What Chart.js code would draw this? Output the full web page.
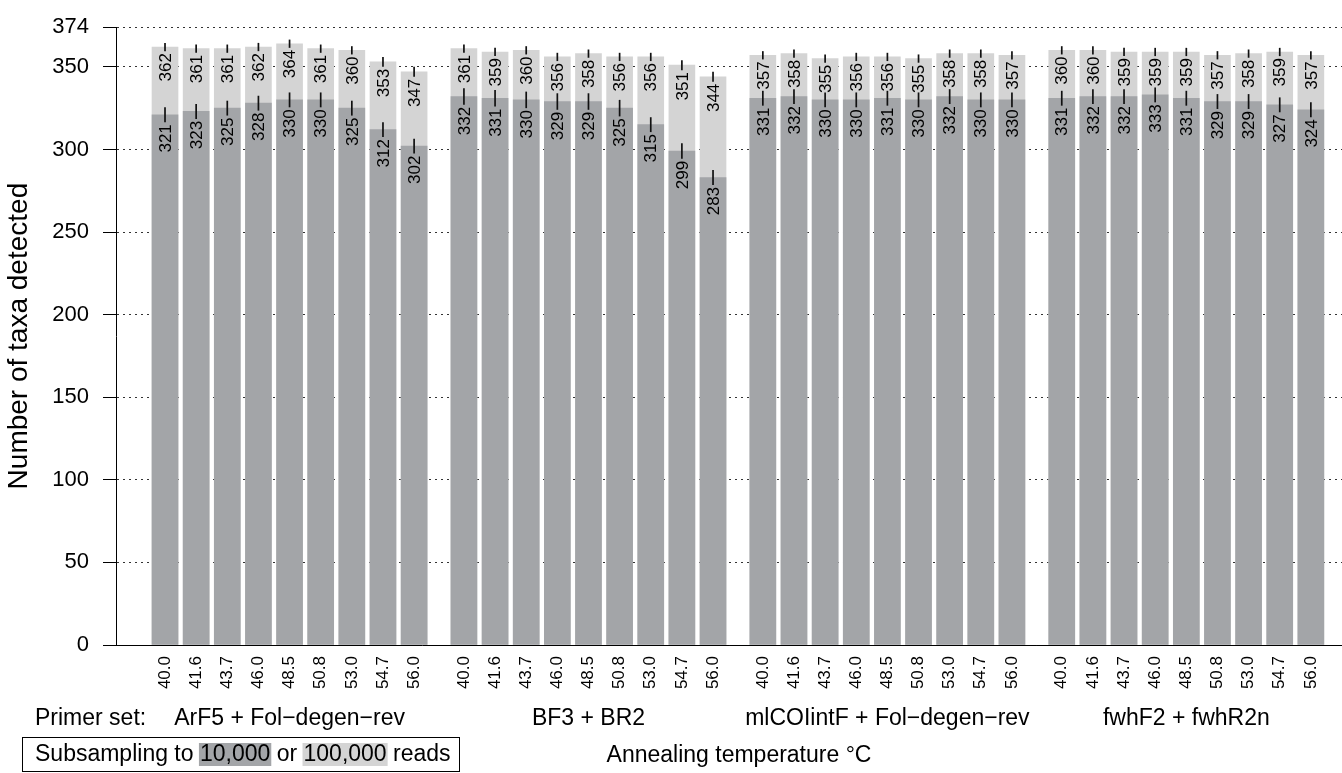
<!DOCTYPE html>
<html>
<head>
<meta charset="utf-8">
<script src="https://cdn.jsdelivr.net/npm/chart.js@4"></script>
<style>
  html, body { margin: 0; padding: 0; background: #fff; }
  canvas { display: block; }
</style>
</head>
<body>
<canvas id="c" width="1342" height="773"></canvas>
<script>
// ---------- data ----------
const temps = ['40.0', '41.6', '43.7', '46.0', '48.5', '50.8', '53.0', '54.7', '56.0'];
const primerSets = ['ArF5 + Fol\u2212degen\u2212rev', 'BF3 + BR2', 'mlCOIintF + Fol\u2212degen\u2212rev', 'fwhF2 + fwhR2n'];
const yTicks = [0, 50, 100, 150, 200, 250, 300, 350, 374];

// taxa detected after subsampling to 10,000 reads (one row per primer set)
const reads10k = [
  321, 323, 325, 328, 330, 330, 325, 312, 302,
  332, 331, 330, 329, 329, 325, 315, 299, 283,
  331, 332, 330, 330, 331, 330, 332, 330, 330,
  331, 332, 332, 333, 331, 329, 329, 327, 324
];
// taxa detected after subsampling to 100,000 reads
const reads100k = [
  362, 361, 361, 362, 364, 361, 360, 353, 347,
  361, 359, 360, 356, 358, 356, 356, 351, 344,
  357, 358, 355, 356, 356, 355, 358, 358, 357,
  360, 360, 359, 359, 359, 357, 358, 359, 357
];
// half-length of the error bars (estimated)
const err10k = [
  4.5, 4.5, 4.5, 4.5, 4.5, 4.5, 4.5, 4.5, 4.5,
  5.0, 5.0, 5.0, 5.0, 5.0, 5.0, 4.5, 4.7, 4.5,
  4.5, 4.5, 4.5, 4.5, 4.5, 4.5, 4.5, 4.5, 4.5,
  4.5, 4.5, 4.5, 4.5, 4.5, 4.5, 4.5, 4.5, 4.5
];
const err100k = [
  2.5, 2.5, 2.5, 2.5, 2.5, 2.5, 2.5, 3.0, 3.0,
  2.5, 2.5, 2.5, 2.5, 2.5, 2.5, 2.5, 3.0, 3.0,
  2.5, 2.5, 2.5, 2.5, 2.5, 2.5, 2.5, 2.5, 2.5,
  2.5, 2.5, 2.5, 2.5, 2.5, 2.5, 2.5, 2.5, 2.5
];

const yTitle = 'Number of taxa detected';
const xTitle = 'Annealing temperature \u00B0C';
const primerLabel = 'Primer set:';
const legendParts = ['Subsampling to ', '10,000', ' or ', '100,000', ' reads'];

// ---------- layout helpers ----------
const GROUP_STEP = 9.6;
const nPer = temps.length;
const pos = (g, i) => g * GROUP_STEP + i;
const positions = [];
for (let g = 0; g < primerSets.length; g++) for (let i = 0; i < nPer; i++) positions.push(pos(g, i));

const DARK = '#a3a5a8';
const LIGHT = '#d4d4d4';
const FONT = '"Liberation Sans", Arial, Helvetica, sans-serif';
Chart.defaults.font.family = FONT;
Chart.defaults.color = '#000';

const errLabels = {
  id: 'errLabels',
  afterDatasetsDraw(chart) {
    const ctx = chart.ctx, ys = chart.scales.y;
    ctx.save();
    ctx.strokeStyle = '#111';
    ctx.lineWidth = 1.7;
    ctx.fillStyle = '#000';
    ctx.font = '17px ' + FONT;
    chart.data.datasets.forEach((ds, di) => {
      const meta = chart.getDatasetMeta(di);
      const errs = ds.errs;
      meta.data.forEach((bar, i) => {
        const v = ds.data[i].y, e = errs[i];
        const yT = ys.getPixelForValue(v + e), yB = ys.getPixelForValue(v - e);
        ctx.beginPath();
        ctx.moveTo(bar.x, yT);
        ctx.lineTo(bar.x, yB);
        ctx.stroke();
        ctx.save();
        ctx.translate(bar.x + 1, yB + 2);
        ctx.rotate(-Math.PI / 2);
        ctx.textAlign = 'right';
        ctx.textBaseline = 'middle';
        ctx.fillText(String(v), 0, 0);
        ctx.restore();
      });
    });
    ctx.restore();
  }
};

const extras = {
  id: 'extras',
  afterDraw(chart) {
    const ctx = chart.ctx, xs = chart.scales.x;
    ctx.save();
    ctx.fillStyle = '#000';
    ctx.font = '23px ' + FONT;
    ctx.textBaseline = 'alphabetic';
    ctx.textAlign = 'left';
    ctx.fillText(primerLabel, 35, 725);
    ctx.textAlign = 'center';
    primerSets.forEach((name, g) => {
      const cx = xs.getPixelForValue(pos(g, (nPer - 1) / 2));
      ctx.fillText(name, cx, 725);
    });
    ctx.fillText(xTitle, 739, 762);

    // legend box
    ctx.textAlign = 'left';
    let x = 35;
    const base = 761;
    legendParts.forEach((t, k) => {
      const w = ctx.measureText(t).width;
      if (k === 1 || k === 3) {
        ctx.fillStyle = k === 1 ? DARK : LIGHT;
        ctx.fillRect(x - 1, base - 18, w + 2, 23);
      }
      ctx.fillStyle = '#000';
      ctx.fillText(t, x, base);
      x += w;
    });
    ctx.strokeStyle = '#000';
    ctx.lineWidth = 1;
    ctx.strokeRect(22.5, 737.5, Math.round(x + 8) - 22, 34);
    ctx.restore();
  }
};

const mk = (vals) => vals.map((v, k) => ({ x: positions[k], y: v }));

new Chart(document.getElementById('c'), {
  type: 'bar',
  data: {
    datasets: [
      { label: '10,000 reads', data: mk(reads10k), errs: err10k, backgroundColor: DARK, order: 0, grouped: false, barThickness: 26, borderWidth: 0 },
      { label: '100,000 reads', data: mk(reads100k), errs: err100k, backgroundColor: LIGHT, order: 1, grouped: false, barThickness: 26, borderWidth: 0 }
    ]
  },
  options: {
    responsive: false,
    animation: false,
    layout: { padding: { top: 19, right: 0, left: 0, bottom: 0 } },
    plugins: { legend: { display: false }, tooltip: { enabled: false } },
    scales: {
      x: {
        type: 'linear',
        offset: false,
        min: -1.574,
        max: 37.8,
        grid: { display: false, offset: false },
        border: { display: true, color: '#000', width: 1 },
        afterBuildTicks: (s) => { s.ticks = positions.map(v => ({ value: v })); },
        afterFit: (s) => { s.height = 128; s.paddingLeft = 0; s.paddingRight = 0; },
        ticks: {
          autoSkip: false,
          minRotation: 90,
          maxRotation: 90,
          padding: 3,
          font: { size: 17 },
          color: '#000',
          callback: (val, idx) => temps[idx % nPer]
        }
      },
      y: {
        min: 0,
        max: 374,
        afterBuildTicks: (s) => { s.ticks = yTicks.map(v => ({ value: v })); },
        afterFit: (s) => { s.width = 116; },
        grid: {
          color: '#333',
          lineWidth: 1,
          drawTicks: true,
          tickLength: 13,
          tickColor: '#000',
          tickWidth: 1,
          tickBorderDash: []
        },
        border: { display: true, color: '#000', width: 1, dash: [2, 4] },
        ticks: { font: { size: 22 }, color: '#000', padding: 14 },
        title: { display: true, text: yTitle, font: { size: 28 }, color: '#000', padding: { top: 2, bottom: 0 } }
      }
    }
  },
  plugins: [errLabels, extras]
});
</script>
</body>
</html>
